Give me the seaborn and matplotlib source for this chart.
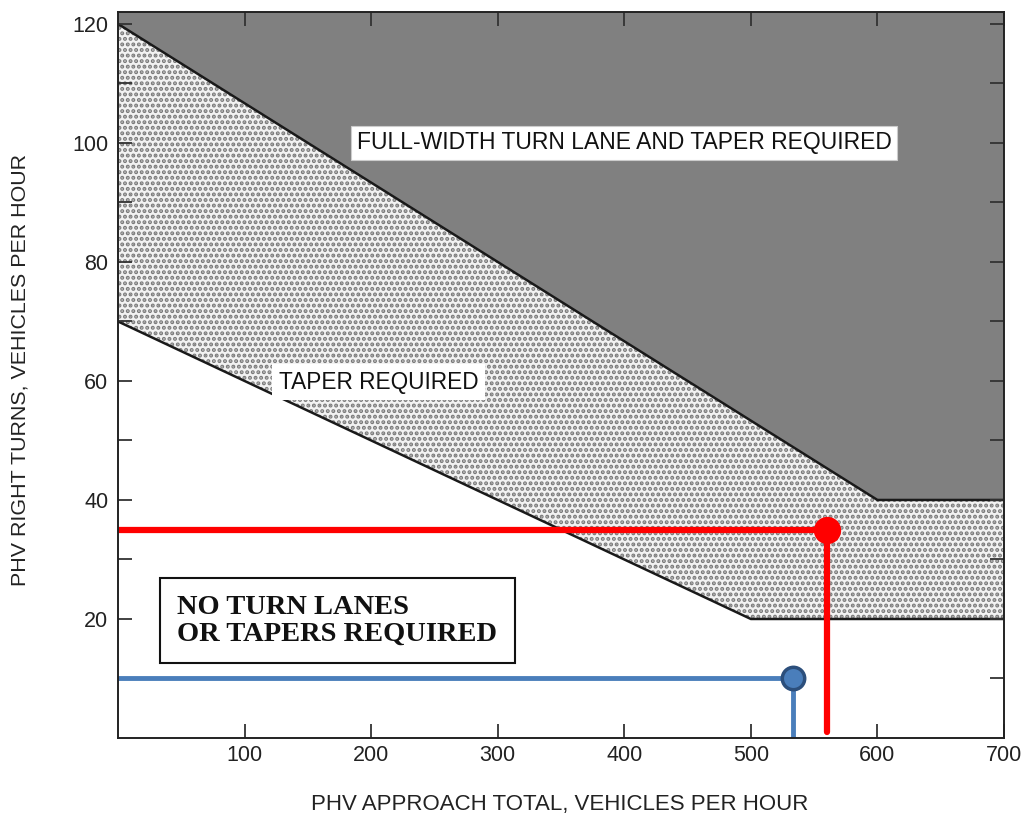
import numpy as np
import pandas as pd
import matplotlib
matplotlib.use("Agg")
import matplotlib.pyplot as plt
import seaborn as sns

# ---- data ----
upper_x = [0, 600, 700]
upper_y = [120, 40, 40]
lower_x = [0, 500, 700]
lower_y = [70, 20, 20]
red_point = (560, 35)
blue_point = (533, 10)
x_ticks = [100, 200, 300, 400, 500, 600, 700]
y_ticks = [20, 40, 60, 80, 100, 120]
y_minor = [10, 30, 50, 70, 90, 110]
label_full = "FULL-WIDTH TURN LANE AND TAPER REQUIRED"
label_taper = "TAPER REQUIRED"
label_none = "NO TURN LANES\nOR TAPERS REQUIRED"
x_label = "PHV APPROACH TOTAL, VEHICLES PER HOUR"
y_label = "PHV RIGHT TURNS, VEHICLES PER HOUR"

XMAX, YMAX = 700, 122

sns.set_theme(style="white")
plt.rcParams["font.family"] = ["Liberation Sans", "DejaVu Sans"]
plt.rcParams["hatch.linewidth"] = 2.0
plt.rcParams["hatch.color"] = "#7a7a7a"
plt.rcParams["axes.axisbelow"] = False

fig = plt.figure(figsize=(10.30, 8.21), dpi=100)
ax = fig.add_axes([118 / 1030, 1 - 738 / 821, (1004 - 118) / 1030, (738 - 12) / 821])
ax.set_axisbelow(False)

# dark region
ax.fill(np.r_[upper_x, [XMAX, 0]], np.r_[upper_y, [YMAX, YMAX]],
        facecolor="#808080", edgecolor="none", zorder=1)
# stippled region
ax.fill(np.r_[upper_x, lower_x[::-1]], np.r_[upper_y, lower_y[::-1]],
        facecolor="#f2f2f2", edgecolor="#7a7a7a", hatch="...", linewidth=0, zorder=1)

bnd = pd.DataFrame({"x": upper_x + lower_x, "y": upper_y + lower_y,
                    "b": ["u"] * 3 + ["l"] * 3})
sns.lineplot(data=bnd, x="x", y="y", units="b", estimator=None, sort=False,
             color="#1a1a1a", linewidth=1.8, ax=ax, zorder=2)

# red and blue paths
rdf = pd.DataFrame({"x": [0, red_point[0], red_point[0]], "y": [red_point[1], red_point[1], 1]})
bdf = pd.DataFrame({"x": [0, blue_point[0], blue_point[0]], "y": [blue_point[1], blue_point[1], 0]})
sns.lineplot(data=rdf, x="x", y="y", sort=False, estimator=None, color="#ff0000",
             linewidth=4.5, ax=ax, zorder=4)
sns.lineplot(data=bdf, x="x", y="y", sort=False, estimator=None, color="#4a7ebb",
             linewidth=3.5, ax=ax, zorder=4)
sns.scatterplot(x=[red_point[0]], y=[red_point[1]], color="#ff0000", s=330,
                edgecolor="#ff0000", ax=ax, zorder=5)
sns.scatterplot(x=[blue_point[0]], y=[blue_point[1]], color="#4a7ebb", s=260,
                edgecolor="#2c4f7c", linewidth=2.5, marker="o", ax=ax, zorder=5)

# labels
ax.text(400, 100, label_full, ha="center", va="center", fontsize=16.5, color="#111111",
        bbox=dict(boxstyle="square,pad=0.25", facecolor="white", edgecolor="#cccccc", linewidth=0.8),
        zorder=6)
ax.text(206, 59.8, label_taper, ha="center", va="center", fontsize=16.3, color="#111111",
        bbox=dict(boxstyle="square,pad=0.3", facecolor="white", edgecolor="none"), zorder=6)
ax.text(47, 19.7, label_none, ha="left", va="center", fontsize=20.5, fontweight="bold",
        family=["Liberation Serif", "DejaVu Serif"], color="#111111", linespacing=1.05,
        bbox=dict(boxstyle="square,pad=0.6", facecolor="white", edgecolor="#111111", linewidth=1.5),
        zorder=6)

ax.set_xlim(0, XMAX)
ax.set_ylim(0, YMAX)
ax.set_xticks(x_ticks)
ax.set_xticklabels([str(v) for v in x_ticks])
ax.set_yticks(y_ticks)
ax.set_yticklabels([str(v) for v in y_ticks])
ax.set_yticks(y_minor, minor=True)
ax.tick_params(axis="both", which="both", direction="in", length=10, width=1.3,
               color="#333333", labelsize=15.5, labelcolor="#222222",
               top=True, right=True, bottom=True, left=True)
ax.tick_params(axis="x", which="major", pad=5)
ax.tick_params(axis="y", which="major", pad=7)
for s in ax.spines.values():
    s.set_color("#222222")
    s.set_linewidth(1.4)
    s.set_zorder(7)
ax.set_xlabel(x_label, fontsize=16, color="#222222")
ax.set_ylabel(y_label, fontsize=15.4, color="#222222")
ax.xaxis.set_label_coords((560 - 118) / 886, (738 - 794) / 726)
ax.yaxis.set_label_coords((30 - 118) / 886, (738 - 370) / 726)
ax.grid(False)

fig.savefig("out.png", dpi=100, facecolor="white")
